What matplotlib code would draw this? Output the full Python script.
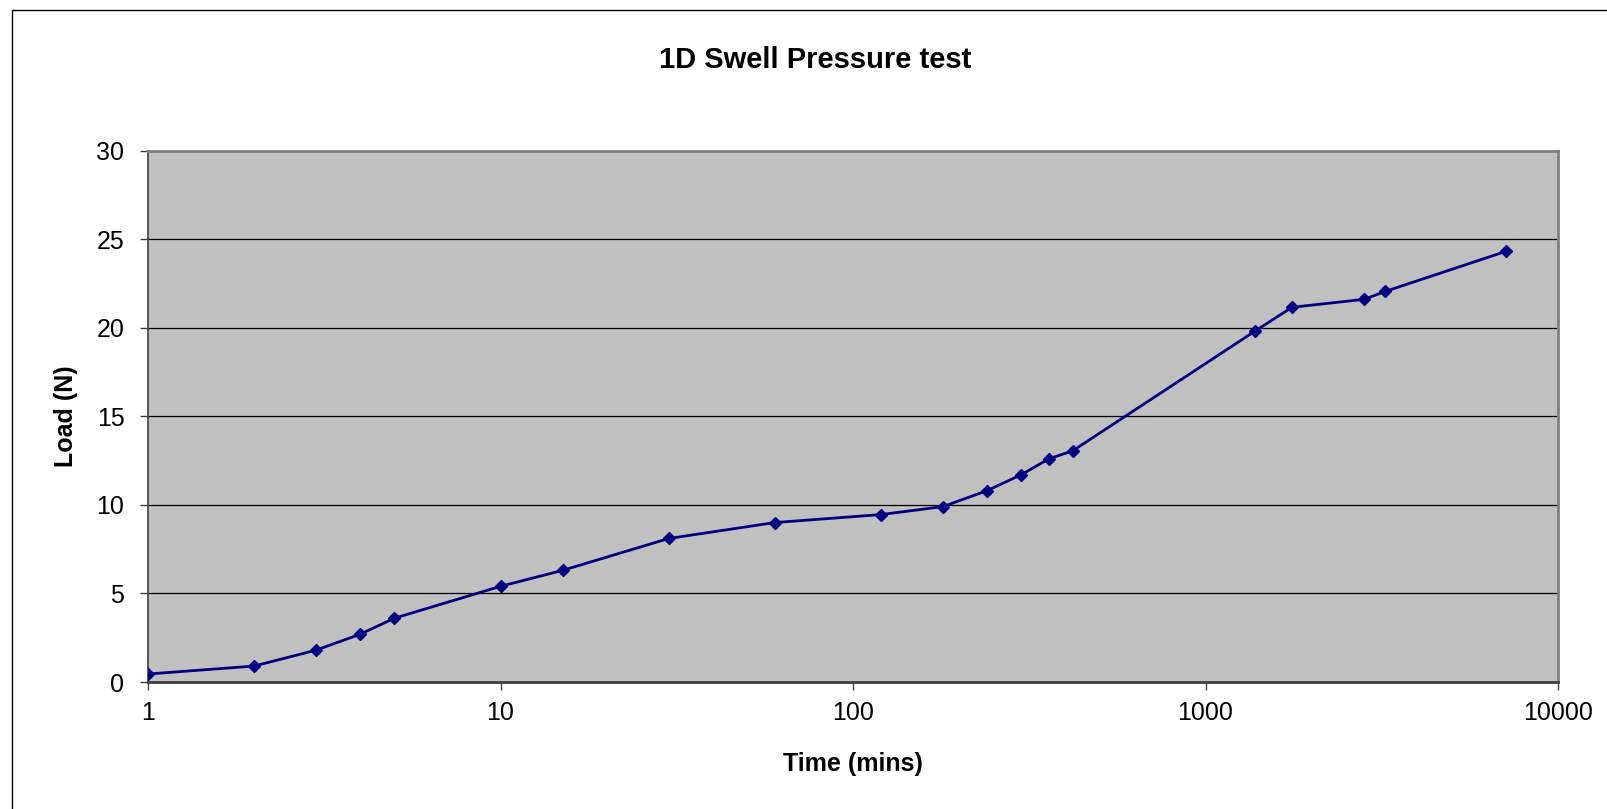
import matplotlib
matplotlib.use("Agg")
import matplotlib.pyplot as plt
from matplotlib.patches import Rectangle

plt.rcParams['font.family'] = ['Liberation Sans', 'DejaVu Sans']

# Data (time in mins, load in N)
time_mins = [1, 2, 3, 4, 5, 10, 15, 30, 60, 120, 180, 240, 300, 360, 420,
             1380, 1760, 2820, 3240, 7100]
load_n = [0.45, 0.9, 1.8, 2.7, 3.6, 5.4, 6.3, 8.1, 9.0, 9.45, 9.9, 10.8,
          11.7, 12.6, 13.05, 19.8, 21.15, 21.6, 22.05, 24.3]
x_ticks = [1, 10, 100, 1000, 10000]
x_tick_labels = ["1", "10", "100", "1000", "10000"]
y_ticks = [0, 5, 10, 15, 20, 25, 30]

W, H = 1607, 809
fig = plt.figure(figsize=(W / 100, H / 100), dpi=100)
ax = fig.add_axes([148.0 / W, 1 - 682.0 / H, (1558 - 148.0) / W, (682.0 - 150.5) / H])

# outer chart border (cut off at right and bottom like the original)
fig.patches.append(Rectangle((12.3 / W, -0.1), 1.2, 1.1 - 10.2 / H, transform=fig.transFigure,
                             fill=False, edgecolor='black', lw=1.0))

ax.set_facecolor('#C0C0C0')
ax.plot(time_mins, load_n, color='#000080', lw=2, marker='D', markersize=6.5, zorder=3)

ax.set_xscale('log')
ax.set_xlim(1, 10000)
ax.set_ylim(0, 30)
ax.set_xticks(x_ticks)
ax.set_xticklabels(x_tick_labels)
ax.xaxis.set_minor_locator(matplotlib.ticker.NullLocator())
ax.set_yticks(y_ticks)

ax.yaxis.grid(True, color='black', lw=0.9)
ax.set_axisbelow(True)
for s in ['top', 'right']:
    ax.spines[s].set_color('#808080')
    ax.spines[s].set_linewidth(2)
ax.spines['left'].set_color('#404040')
ax.spines['bottom'].set_color('#404040')
ax.spines['left'].set_linewidth(1.2)
ax.spines['bottom'].set_linewidth(2)

ax.tick_params(axis='both', direction='out', length=6, width=1, color='#404040', labelsize=18)
ax.tick_params(axis='x', pad=8)
ax.tick_params(axis='y', pad=11)

# title and axis labels placed like the Excel original
fig.text(815 / W, 1 - 60 / H, "1D Swell Pressure test", fontsize=21, fontweight='bold',
         ha='center', va='center')
fig.text(853 / W, 1 - 764 / H, "Time (mins)", fontsize=18, fontweight='bold',
         ha='center', va='center')
fig.text(66 / W, 1 - 416 / H, "Load (N)", fontsize=18, fontweight='bold',
         ha='center', va='center', rotation=90)

fig.savefig("out.png", dpi=100)
